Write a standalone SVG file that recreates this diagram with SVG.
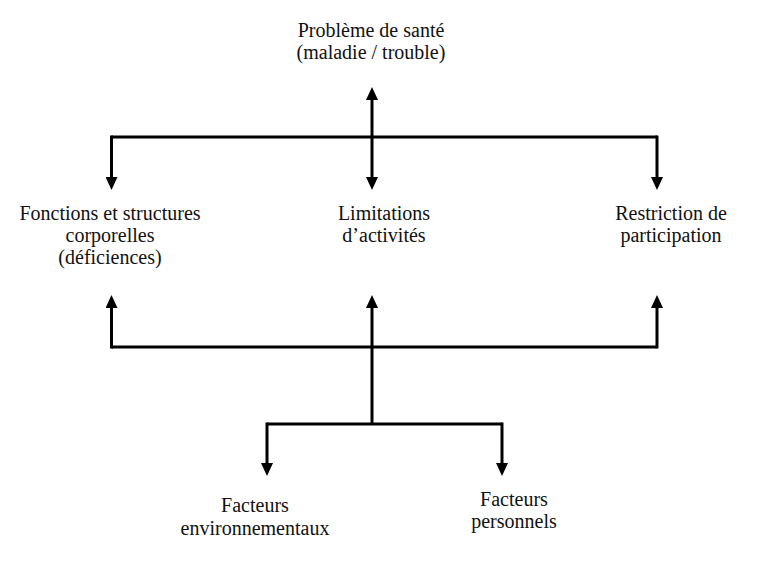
<svg xmlns="http://www.w3.org/2000/svg" width="758" height="572" viewBox="0 0 758 572">
  <style>
    text { font-family: "Liberation Serif", "Times New Roman", serif; font-size: 20px; fill: #111; text-anchor: middle; }
    .ln { fill: none; stroke: #000; stroke-width: 3; }
  </style>
  <defs>
    <marker id="ah" viewBox="0 0 13 12" refX="0" refY="6" markerWidth="13" markerHeight="12" markerUnits="userSpaceOnUse" orient="auto">
      <path d="M0,0 L13,6 L0,12 Z" fill="#000"/>
    </marker>
  </defs>
  <rect width="758" height="572" fill="#fff"/>

  <g id="connectors">
    <!-- upper bar and its branches -->
    <path class="ln" d="M111.5,137 H657"/>
    <path class="ln" d="M111.5,135.5 V177" marker-end="url(#ah)"/>
    <path class="ln" d="M657,135.5 V177" marker-end="url(#ah)"/>
    <path class="ln" d="M372,137 V177" marker-end="url(#ah)"/>
    <path class="ln" d="M372,137 V100" marker-end="url(#ah)"/>
    <!-- lower bar and its branches -->
    <path class="ln" d="M111.5,348.5 V308" marker-end="url(#ah)"/>
    <path class="ln" d="M657,348.5 V308" marker-end="url(#ah)"/>
    <path class="ln" d="M372,347 V308" marker-end="url(#ah)"/>
    <path class="ln" d="M111.5,347 H657"/>
    <!-- contextual factors -->
    <path class="ln" d="M372,347 V424"/>
    <path class="ln" d="M267,424 H502"/>
    <path class="ln" d="M267,422.5 V463" marker-end="url(#ah)"/>
    <path class="ln" d="M502,422.5 V463" marker-end="url(#ah)"/>
  </g>

  <g id="sante">
    <text x="371" y="37">Problème de santé</text>
    <text x="371" y="59">(maladie / trouble)</text>
  </g>
  <g id="fonctions">
    <text x="110" y="220">Fonctions et structures</text>
    <text x="110" y="242">corporelles</text>
    <text x="110" y="264">(déficiences)</text>
  </g>
  <g id="activites">
    <text x="384" y="220">Limitations</text>
    <text x="384" y="242">d’activités</text>
  </g>
  <g id="participation">
    <text x="671" y="220">Restriction de</text>
    <text x="671" y="242">participation</text>
  </g>
  <g id="environnementaux">
    <text x="255" y="512">Facteurs</text>
    <text x="255" y="535">environnementaux</text>
  </g>
  <g id="personnels">
    <text x="514" y="506">Facteurs</text>
    <text x="514" y="528">personnels</text>
  </g>
</svg>
